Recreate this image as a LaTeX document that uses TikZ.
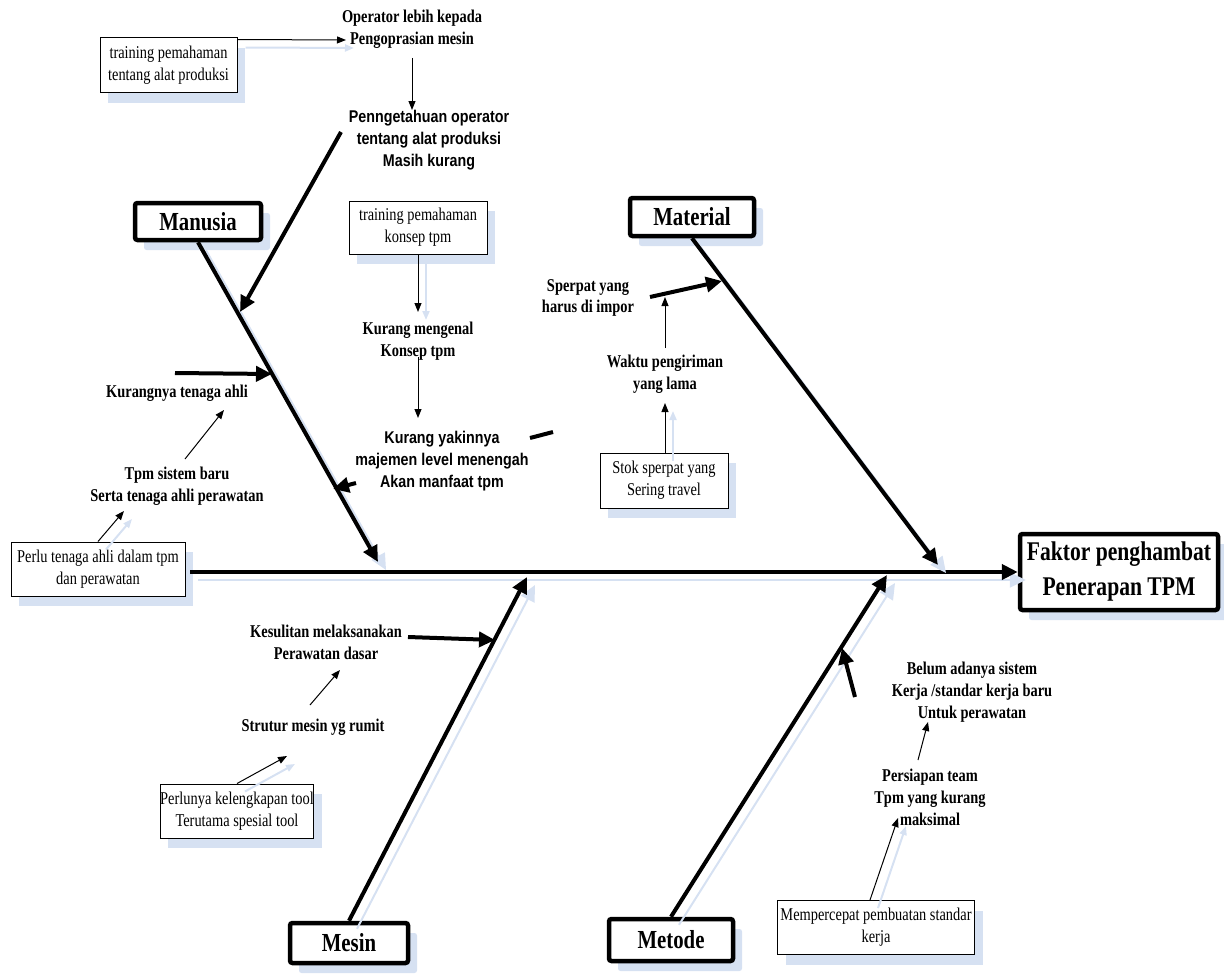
\documentclass[tikz,border=0pt]{standalone}
\usepackage{fontspec}
\setmainfont[FakeStretch=0.8]{Liberation Serif}
\setsansfont[FakeStretch=0.84]{Liberation Sans}
\usetikzlibrary{arrows.meta,shadows}
\definecolor{shblue}{RGB}{214,225,242}
\begin{document}
\begin{tikzpicture}[x=1pt,y=-1pt,
  lbl/.style={font=\fontsize{18}{22}\selectfont\bfseries,align=center,inner sep=0pt},
  lbls/.style={font=\fontsize{17}{22}\selectfont\sffamily\bfseries,align=center,inner sep=0pt},
  txtbox/.style={draw,line width=1pt,fill=white,align=center,inner sep=0pt,
    font=\fontsize{18}{22}\selectfont,
    drop shadow={shadow xshift=8pt,shadow yshift=-10pt,fill=shblue,opacity=1}},
  catbox/.style={draw,line width=4.5pt,rounded corners=2.5pt,fill=white,inner sep=0pt,
    font=\fontsize{26}{30}\selectfont\bfseries,
    drop shadow={shadow xshift=9pt,shadow yshift=-10pt,fill=shblue,opacity=1}},
  bone/.style={line width=4pt,-{Triangle[length=16pt,width=15pt]}},
  tarrow/.style={line width=1pt,-{Triangle[length=9pt,width=7pt]}},
  shd/.style={preaction={draw=shblue,line width=2pt,transform canvas={shift={(8pt,-8pt)}}}},
]
\useasboundingbox (0,0) rectangle (1224,974);

% ---- boxes ----
\node[catbox,minimum width=126pt,minimum height=37pt] (man) at (198,221.5) {Manusia};
\node[catbox,minimum width=124pt,minimum height=38pt] (mat) at (692,217) {Material};
\node[catbox,minimum width=118pt,minimum height=40pt] (mes) at (349,943) {Mesin};
\node[catbox,minimum width=124pt,minimum height=42pt] (met) at (671,940) {Metode};
\node[catbox,minimum width=198pt,minimum height=76pt,align=center,
      font=\fontsize{27}{35}\selectfont\bfseries] (head) at (1119,572) {Faktor penghambat\\Penerapan TPM};

\node[txtbox,minimum width=137pt,minimum height=55pt] (b1) at (168.5,65.5) {training pemahaman\\tentang alat produksi};
\node[txtbox,minimum width=138pt,minimum height=53pt] (b2) at (418,227.5) {training pemahaman\\konsep tpm};
\node[txtbox,minimum width=128pt,minimum height=55pt] (b3) at (664,480.5) {Stok sperpat yang\\Sering travel};
\node[txtbox,minimum width=174pt,minimum height=54pt] (b4) at (98,569) {Perlu tenaga ahli dalam tpm\\dan perawatan};
\node[txtbox,minimum width=149pt,minimum height=54pt] (b5) at (237,811) {Perlunya kelengkapan tool\\Terutama spesial tool};
\node[txtbox,minimum width=197pt,minimum height=54pt] (b6) at (876,927.5) {Mempercepat pembuatan standar\\kerja};

% ---- labels ----
\node[lbl] (opr) at (412,29) {Operator lebih kepada\\Pengoprasian mesin};
\node[lbls] (pen) at (429,140) {Penngetahuan operator\\tentang alat produksi\\Masih kurang};
\node[lbl] (kmg) at (418,341) {Kurang mengenal\\Konsep tpm};
\node[lbls] (kyk) at (442,461) {Kurang yakinnya\\majemen level menengah\\Akan manfaat tpm};
\node[lbl,font=\fontsize{18}{21}\selectfont\bfseries] (spr) at (588,298) {Sperpat yang\\harus di impor};
\node[lbl] (wkt) at (665,374) {Waktu pengiriman\\yang lama};
\node[lbl] (kta) at (177,393) {Kurangnya tenaga ahli};
\node[lbl] (tpm) at (177,486) {Tpm sistem baru\\Serta tenaga ahli perawatan};
\node[lbl] (ksl) at (326,642) {Kesulitan melaksanakan\\Perawatan dasar};
\node[lbl] (str) at (313,727) {Strutur mesin yg rumit};
\node[lbl] (blm) at (972,692) {Belum adanya sistem\\Kerja /standar kerja baru\\Untuk perawatan};
\node[lbl] (prs) at (930,797) {Persiapan team\\Tpm yang kurang\\maksimal};

% ---- coordinates ----
\coordinate (sp0) at (190,572);
\coordinate (sp1) at (378,562);
\coordinate (sp2) at (938,565);
\coordinate (sp3) at (527,577);
\coordinate (sp4) at (887,575);
\coordinate (a1s) at (341,132);  \coordinate (a1e) at (240,312);
\coordinate (a2s) at (175,373);  \coordinate (a2e) at (272,374);
\coordinate (a3s) at (356,483);  \coordinate (a3e) at (333,489);
\coordinate (a4s) at (650,297);  \coordinate (a4e) at (722,281);
\coordinate (a5s) at (408,637);  \coordinate (a5e) at (495,640);
\coordinate (a6s) at (855,697);  \coordinate (a6e) at (842,648);
\coordinate (d1) at (530,438);   \coordinate (d2) at (553,432);
\coordinate (t1e) at (346,40);
\coordinate (t2s) at (412,58);   \coordinate (t2e) at (412,110);
\coordinate (t3e) at (418,312);
\coordinate (t4s) at (418,357);  \coordinate (t4e) at (418,418);
\coordinate (t5e) at (665,403);
\coordinate (t6s) at (665,348);  \coordinate (t6e) at (665,297);
\coordinate (t7s) at (185,459);  \coordinate (t7e) at (224,410);
\coordinate (t8e) at (124,511);
\coordinate (t9s) at (310,705);  \coordinate (t9e) at (340,670);
\coordinate (t10e) at (287,756);
\coordinate (t11s) at (918,760); \coordinate (t11e) at (928,722);
\coordinate (t12e) at (898,818);

% ---- spine and bones ----
\draw[bone,shd] (sp0) -- (head.west);
\draw[bone,shd] (man.south) -- (sp1);
\draw[bone,shd] (mat.south) -- (sp2);
\draw[bone,shd] (mes.north) -- (sp3);
\draw[bone,shd] (met.north) -- (sp4);

% ---- thick cause arrows ----
\draw[bone] (a1s) -- (a1e);
\draw[bone] (a2s) -- (a2e);
\draw[bone] (a3s) -- (a3e);
\draw[bone] (a4s) -- (a4e);
\draw[bone] (a5s) -- (a5e);
\draw[bone] (a6s) -- (a6e);
\draw[line width=4pt] (d1) -- (d2);

% ---- thin arrows ----
\draw[tarrow,shd] ([yshift=-2pt]b1.north east) -- (t1e);
\draw[tarrow] (t2s) -- (t2e);
\draw[tarrow,shd] (b2.south) -- (t3e);
\draw[tarrow] (t4s) -- (t4e);
\draw[tarrow,shd] ([xshift=1pt]b3.north) -- (t5e);
\draw[tarrow] (t6s) -- (t6e);
\draw[tarrow] (t7s) -- (t7e);
\draw[tarrow,shd] (b4.north) -- (t8e);
\draw[tarrow] (t9s) -- (t9e);
\draw[tarrow,shd] (b5.north) -- (t10e);
\draw[tarrow] (t11s) -- (t11e);
\draw[tarrow,shd] ([xshift=-6pt]b6.north) -- (t12e);
\end{tikzpicture}
\end{document}
